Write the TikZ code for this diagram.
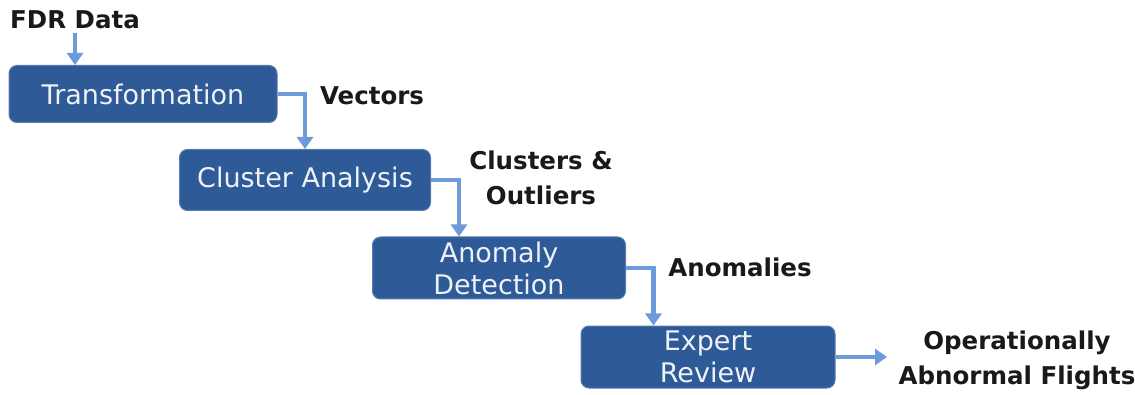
\documentclass[tikz,border=0pt]{standalone}
\usepackage{fontspec}
\setmainfont{DejaVu Sans}
\usetikzlibrary{arrows.meta}
\definecolor{boxblue}{RGB}{46,90,152}
\definecolor{flowblue}{RGB}{108,154,218}
\definecolor{tagtext}{RGB}{25,25,25}
\tikzset{
  stage/.style={rectangle, rounded corners=8pt, fill=boxblue, draw=boxblue!80!white, line width=1pt,
    text=white!92!boxblue, font=\fontsize{27}{32}\selectfont, align=center, inner sep=0pt},
  flow/.style={draw=flowblue, line width=4.5pt, -{Triangle[width=16pt,length=12pt]}},
  tag/.style={font=\bfseries\fontsize{24.5}{35}\selectfont, text=tagtext, align=center}
}
\begin{document}
\begin{tikzpicture}[x=1pt,y=-1pt]
\useasboundingbox (0,0) rectangle (1135,395);
% stages
\node[stage, minimum width=268pt, minimum height=57pt] (trans) at (143,94) {Transformation};
\node[stage, minimum width=251pt, minimum height=61pt] (cluster) at (305,180) {Cluster Analysis};
\node[stage, minimum width=253pt, minimum height=62pt] (anomaly) at (499,268) {Anomaly\\Detection};
\node[stage, minimum width=254pt, minimum height=62pt] (expert) at (708,357) {Expert\\Review};
% labels
\node[tag] (fdr) at (75,20) {FDR Data};
\node[tag] (vectors) at (372,96) {Vectors};
\node[tag] (clusters) at (541,178) {Clusters \&\\Outliers};
\node[tag] (anomalies) at (740,267) {Anomalies};
\node[tag] (result) at (1017,360) {Operationally\\Abnormal Flights};
\coordinate (out) at (887,357);
% flow
\draw[flow] (fdr.south) -- (fdr.south |- trans.north);
\draw[flow] (trans.east) -| (cluster.north);
\draw[flow] (cluster.east) -| ([xshift=87pt]anomaly.north west);
\draw[flow] (anomaly.east) -| ([xshift=73pt]expert.north west);
\draw[flow] (expert.east) -- (out);
\end{tikzpicture}
\end{document}
